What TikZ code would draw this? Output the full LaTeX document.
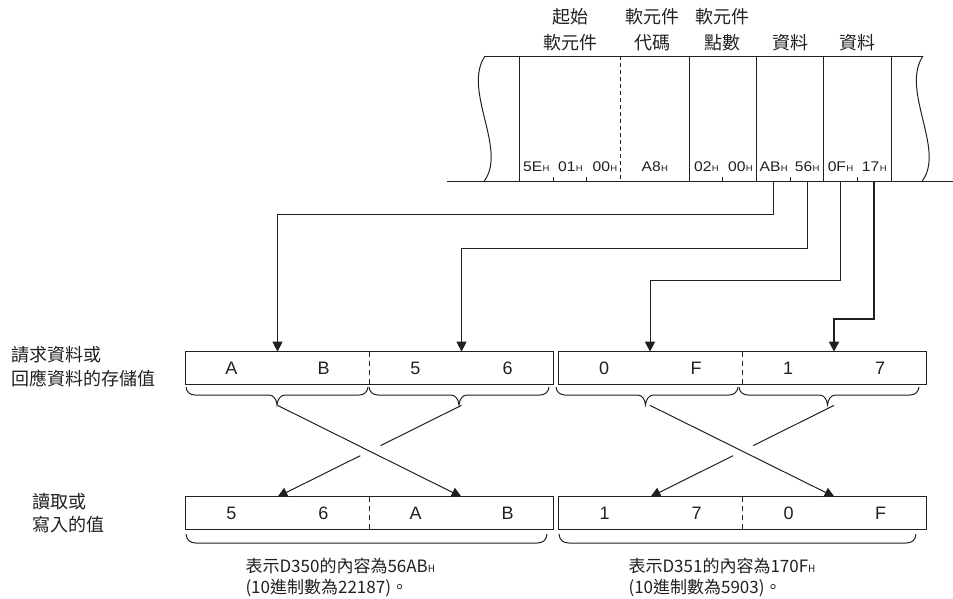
\documentclass[tikz,border=0pt]{standalone}
\usepackage{fontspec}
\usepackage{graphicx}
\setmainfont{Liberation Sans}
\newfontfamily\cjk{Noto Sans CJK TC}
\usetikzlibrary{positioning,calc,arrows.meta}
\definecolor{ink}{RGB}{35,31,32}
\newcommand{\hx}[1]{\scalebox{1.12}[1]{#1\kern0.3pt{\fontsize{8.5}{9}\selectfont H}}}
\newcommand{\ubrace}[4]{\draw (#1,#4) .. controls ({#1+0.5},{#4+5}) and ({#1+4},{#4+8}) .. ({#1+9},{#4+8}) -- ({#2-8},{#4+8}) .. controls ({#2-3},{#4+8}) and ({#2-0.5},{#4+13}) .. (#2,{#4+18}) .. controls ({#2+0.5},{#4+13}) and ({#2+3},{#4+8}) .. ({#2+8},{#4+8}) -- ({#3-9},{#4+8}) .. controls ({#3-4},{#4+8}) and ({#3-0.5},{#4+5}) .. (#3,#4);}
\newcommand{\bbrace}[3]{\draw (#1,#3) .. controls ({#1+0.5},{#3+6}) and ({#1+4},{#3+9}) .. ({#1+10},{#3+9}) -- ({#2-10},{#3+9}) .. controls ({#2-4},{#3+9}) and ({#2-0.5},{#3+6}) .. (#2,#3);}

\begin{document}
\begin{tikzpicture}[x=1pt,y=-1pt,line width=1pt,color=ink,
  cell/.style={minimum width=91pt,minimum height=31.7pt,inner sep=0pt,font=\fontsize{18}{20}\selectfont},
  hex/.style={anchor=base,inner sep=0pt,font=\fontsize{14}{15}\selectfont},
  hd/.style={align=center,inner sep=0pt,font=\cjk\fontsize{18}{26}\selectfont},
  lbl/.style={align=left,anchor=west,inner sep=0pt,font=\cjk\fontsize{18}{23.3}\selectfont},
  note/.style={align=left,anchor=west,inner sep=0pt,font=\cjk\fontsize{17}{21.7}\selectfont},
  arr/.style={-{Triangle[length=10pt,width=10pt]}},
  div/.style={dash pattern=on 5pt off 4pt}]
\useasboundingbox (0,0) rectangle (953,598);
\coordinate (fb) at (447,181.3);
\draw (fb) -- (953,181.3);
\draw (485,56) -- (923,56);
\draw (485,56) .. controls (462,90) and (508,150) .. (484,181.3);
\draw (923,56) .. controls (900,90) and (946,150) .. (922,181.3);
\foreach \x in {519.3,689.3,756.7,823.7,891.3} \draw (\x,56) -- (\x,181.3);
\draw[dash pattern=on 4pt off 3pt] (620.3,56) -- (620.3,181.3);
\foreach \x in {553.3,586.3,722.3,790.7,857.3} \draw (\x,181.3) -- (\x,177);
\foreach \x/\lab/\n in {536.3/5E/h1,570.5/01/h2,605/00/h3,654.8/A8/h4,706.5/02/h5,740.5/00/h6,773.7/AB/h7,807.2/56/h8,840.5/0F/h9,874.3/17/h10}
  \node[hex] (\n) at (\x,171) {\hx{\lab}};
\node[hd] (c1) at (570,30) {起始\\軟元件};
\node[hd] (c2) at (652,30) {軟元件\\代碼};
\node[hd] (c3) at (722,30) {軟元件\\點數};
\node[hd] (c4) at (790,43) {資料};
\node[hd] (c5) at (857,43) {資料};
\node[lbl] (q1) at (11,366.5) {請求資料或\\回應資料的存儲值};
\node[lbl] (q2) at (32,513.3) {讀取或\\寫入的值};
\node[cell] (uA) at (231.5,368) {A};
\node[cell,right=0pt of uA] (uB) {B};
\node[cell,right=0pt of uB] (u5) {5};
\node[cell,right=0pt of u5] (u6) {6};
\node[cell,right=4.5pt of u6] (u0) {0};
\node[cell,right=0pt of u0] (uF) {F};
\node[cell,right=0pt of uF] (u1) {1};
\node[cell,right=0pt of u1] (u7) {7};
\node[cell] (l5) at (231.5,513.2) {5};
\node[cell,right=0pt of l5] (l6) {6};
\node[cell,right=0pt of l6] (lA) {A};
\node[cell,right=0pt of lA] (lB) {B};
\node[cell,right=5pt of lB] (l1) {1};
\node[cell,right=0pt of l1] (l7) {7};
\node[cell,right=0pt of l7] (l0) {0};
\node[cell,right=0pt of l0] (lF) {F};
\draw (uA.north west) rectangle (u6.south east);
\draw (u0.north west) rectangle (u7.south east);
\draw (l5.north west) rectangle (lB.south east);
\draw (l1.north west) rectangle (lF.south east);
\foreach \n in {uB,uF,l6,l7} \draw[div] (\n.north east) -- (\n.south east);
\coordinate (v1) at (0,214.3);
\coordinate (v2) at (0,248);
\coordinate (v3) at (0,280.7);
\coordinate (v4) at (0,319.3);
\draw[arr] (h7 |- fb) -- (h7 |- v1) -| (uA.north east);
\draw[arr] (h8 |- fb) -- (h8 |- v2) -| (u5.north east);
\draw[arr] (h9 |- fb) -- (h9 |- v3) -| (u0.north east);
\draw[arr,line width=2pt] (h10 |- fb) -- (h10 |- v4) -| (u1.north east);
\ubrace{186}{277}{368}{387}
\ubrace{369}{459}{549}{387}
\ubrace{556}{645.5}{738}{387}
\ubrace{739}{827.5}{919}{387}
\coordinate (t1) at ([yshift=-21pt]uA.south east);
\coordinate (t2) at ([yshift=-21pt]u5.south east);
\coordinate (t3) at ([yshift=-21pt]u0.south east);
\coordinate (t4) at ([yshift=-21pt]u1.south east);
\draw[arr] (t1) -- (lA.north east);
\draw (t2) -- ($(t2)!.44!(l5.north east)$);
\draw[arr] ($(t2)!.55!(l5.north east)$) -- (l5.north east);
\draw[arr] (t3) -- (l0.north east);
\draw (t4) -- ($(t4)!.44!(l1.north east)$);
\draw[arr] ($(t4)!.55!(l1.north east)$) -- (l1.north east);
\bbrace{186}{547}{534}
\bbrace{559}{916}{534}
\node[note] (n1) at (245,577.5) {表示D350的內容為56AB{\fontsize{10}{10}\selectfont H}\\(10進制數為22187)。};
\node[note] (n2) at (628,577.5) {表示D351的內容為170F{\fontsize{10}{10}\selectfont H}\\(10進制數為5903)。};
\end{tikzpicture}
\end{document}
